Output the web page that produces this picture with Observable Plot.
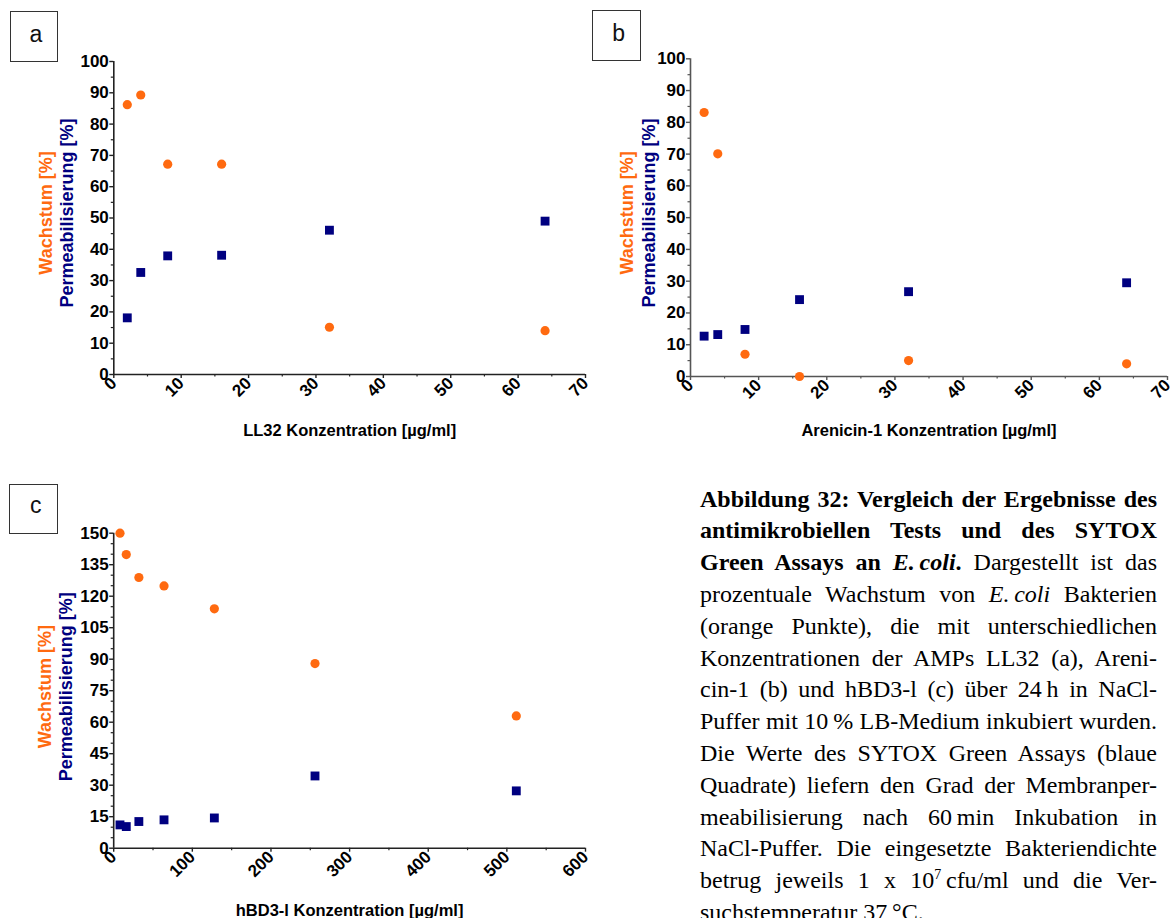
<!DOCTYPE html>
<html>
<head>
<meta charset="utf-8">
<script src="https://cdn.jsdelivr.net/npm/d3@7"></script>
<script src="https://cdn.jsdelivr.net/npm/@observablehq/plot@0.6"></script>
<style>
  html, body { margin: 0; padding: 0; background: #fff; }
  #page { position: relative; width: 1175px; height: 918px; overflow: hidden; background: #fff; }
  .panel { position: absolute; }
  .box { position: absolute; border: 1.5px solid #333; box-sizing: border-box;
         font: 23px 'Liberation Sans', Arial, sans-serif; color: #111; }
  .box span { position: absolute; left: 0; right: 0; text-align: center; padding-left: 4px; }
  #caption { position: absolute; left: 700px; top: 483.6px; width: 457px;
             font-family: 'Liberation Serif', 'Times New Roman', serif; font-size: 24px;
             line-height: 31.8px; color: #000; }
  #caption .l { white-space: nowrap; text-align: justify; text-align-last: justify; height: 31.8px; }
  #caption .last { white-space: nowrap; text-align: left; height: 31.8px; }
  #caption sup { font-size: 14px; line-height: 0; vertical-align: 9px; }
</style>
</head>
<body>
<div id="page">
  <div class="panel" id="pa" style="left:0px;top:0px;width:600px;"></div>
  <div class="panel" id="pb" style="left:590px;top:0px;width:585px;"></div>
  <div class="panel" id="pc" style="left:0px;top:462px;width:600px;"></div>

  <div class="box" style="left:9.6px;top:10.7px;width:48.5px;height:51px;"><span style="top:9px;">a</span></div>
  <div class="box" style="left:592.2px;top:10px;width:49px;height:50.7px;"><span style="top:9px;">b</span></div>
  <div class="box" style="left:9.3px;top:484px;width:49px;height:50.3px;"><span style="top:7px;">c</span></div>

  <div id="caption">
    <div class="l"><b>Abbildung 32: Vergleich der Ergebnisse des</b></div>
    <div class="l"><b>antimikrobiellen Tests und des SYTOX</b></div>
    <div class="l"><b>Green Assays an <i>E.&#8201;coli</i>.</b> Dargestellt ist das</div>
    <div class="l">prozentuale Wachstum von <i>E.&#8201;coli</i> Bakterien</div>
    <div class="l">(orange Punkte), die mit unterschiedlichen</div>
    <div class="l">Konzentrationen der AMPs LL32 (a), Areni-</div>
    <div class="l">cin-1 (b) und hBD3-l (c) über 24&#8201;h in NaCl-</div>
    <div class="l">Puffer mit 10&#8201;% LB-Medium inkubiert wurden.</div>
    <div class="l">Die Werte des SYTOX Green Assays (blaue</div>
    <div class="l">Quadrate) liefern den Grad der Membranper-</div>
    <div class="l">meabilisierung nach 60&#8201;min Inkubation in</div>
    <div class="l">NaCl-Puffer. Die eingesetzte Bakteriendichte</div>
    <div class="l">betrug jeweils 1 x 10<sup>7</sup>&#8201;cfu/ml und die Ver-</div>
    <div class="last">suchstemperatur 37&#8201;°C.</div>
  </div>
</div>
<script>
// ---------- data ----------
const ORANGE = "#FF6A10";
const NAVY = "#000080";

// Panel a: LL32
const concA = [2, 4, 8, 16, 32, 64];
const wachstumA = [86.2, 89.3, 67.2, 67.2, 15.1, 14.0];
const permA = [18.1, 32.6, 37.9, 38.1, 46.1, 49.0];

// Panel b: Arenicin-1
const concB = [2, 4, 8, 16, 32, 64];
const wachstumB = [83.1, 70.1, 7.0, 0.0, 5.0, 4.0];
const permB = [12.7, 13.2, 14.8, 24.2, 26.7, 29.5];

// Panel c: hBD3-l
const concC = [8, 16, 32, 64, 128, 256, 512];
const wachstumC = [150.0, 139.8, 128.9, 124.9, 114.0, 87.9, 63.0];
const permC = [11.1, 10.3, 12.7, 13.5, 14.4, 34.4, 27.3];

// tick labels
const xTicksAB = [0, 10, 20, 30, 40, 50, 60, 70];
const xMinorAB = [5, 15, 25, 35, 45, 55, 65];
const yTicksAB = [0, 10, 20, 30, 40, 50, 60, 70, 80, 90, 100];
const yMinorAB = [5, 15, 25, 35, 45, 55, 65, 75, 85, 95];
const xTicksC = [0, 100, 200, 300, 400, 500, 600];
const xMinorC = [50, 150, 250, 350, 450, 550];
const yTicksC = [0, 15, 30, 45, 60, 75, 90, 105, 120, 135, 150];
const yMinorC = [5, 10, 20, 25, 35, 40, 50, 55, 65, 70, 80, 85, 95, 100, 110, 115, 125, 130, 140, 145];

const yTitleW = "Wachstum [%]";
const yTitleP = "Permeabilisierung [%]";
const xLabelA = "LL32 Konzentration [µg/ml]";
const xLabelB = "Arenicin-1 Konzentration [µg/ml]";
const xLabelC = "hBD3-l Konzentration [µg/ml]";

function panel(o) {
  const wData = o.conc.map((c, i) => ({c, v: o.w[i]}));
  const pData = o.conc.map((c, i) => ({c, v: o.p[i]}));
  const ax = o.axisColor;
  return Plot.plot({
    width: o.width, height: o.height,
    marginLeft: o.mL, marginRight: o.mR, marginTop: o.mT, marginBottom: o.mB,
    x: {domain: o.xDomain, label: null},
    y: {domain: o.yDomain, label: null},
    style: {
      fontFamily: "'Liberation Sans', Arial, sans-serif",
      fontSize: "17px", fontWeight: "bold", color: "#000",
      background: "transparent", maxWidth: "none", overflow: "visible"
    },
    marks: [
      Plot.axisX(o.xMinor, {tickSize: 2.5, tickFormat: () => "", stroke: ax, strokeWidth: 1.2, label: null}),
      Plot.axisX(o.xTicks, {tickSize: 4, tickPadding: 2, tickRotate: -45, stroke: ax, strokeWidth: 1.4, fill: "#000", label: null}),
      Plot.axisY(o.yMinor, {tickSize: 2.5, tickFormat: () => "", stroke: ax, strokeWidth: 1.2, label: null}),
      Plot.axisY(o.yTicks, {tickSize: 4, tickPadding: 1, stroke: ax, strokeWidth: 1.4, fill: "#000", label: null}),
      Plot.ruleX([o.xDomain[0]], {stroke: ax, strokeWidth: 1.6}),
      Plot.ruleY([o.yDomain[0]], {stroke: ax, strokeWidth: 1.6}),
      Plot.dot(wData, {x: "c", y: "v", r: 4.6, fill: ORANGE}),
      Plot.dot(pData, {x: "c", y: "v", symbol: "square", r: 5, fill: NAVY}),
      Plot.text([yTitleW], {text: d => d, frameAnchor: "left", textAnchor: "middle", lineAnchor: "middle",
        rotate: -90, dx: o.dxW, dy: o.dyT, fill: ORANGE, fontSize: 18, fontWeight: "bold"}),
      Plot.text([yTitleP], {text: d => d, frameAnchor: "left", textAnchor: "middle", lineAnchor: "middle",
        rotate: -90, dx: o.dxP, dy: o.dyT, fill: NAVY, fontSize: 18, fontWeight: "bold"}),
      Plot.text([o.xLabel], {text: d => d, frameAnchor: "bottom", textAnchor: "middle", lineAnchor: "bottom",
        dy: o.dyX, fill: "#000", fontSize: 16.5, fontWeight: "bold"})
    ]
  });
}

document.getElementById("pa").append(panel({
  conc: concA, w: wachstumA, p: permA,
  xDomain: [0, 70], xTicks: xTicksAB, xMinor: xMinorAB,
  yDomain: [0, 100], yTicks: yTicksAB, yMinor: yMinorAB,
  xLabel: xLabelA, axisColor: "#222",
  width: 600, height: 444, mL: 113.3, mR: 15, mT: 61, mB: 70,
  dxW: -68, dxP: -46.6, dyT: -5, dyX: 61
}));

document.getElementById("pb").append(panel({
  conc: concB, w: wachstumB, p: permB,
  xDomain: [0, 70], xTicks: xTicksAB, xMinor: xMinorAB,
  yDomain: [0, 100], yTicks: yTicksAB, yMinor: yMinorAB,
  xLabel: xLabelB, axisColor: "#555",
  width: 585, height: 444, mL: 100, mR: 8, mT: 58.3, mB: 68,
  dxW: -63.2, dxP: -40.8, dyT: -4.7, dyX: 59
}));

document.getElementById("pc").append(panel({
  conc: concC, w: wachstumC, p: permC,
  xDomain: [0, 600], xTicks: xTicksC, xMinor: xMinorC,
  yDomain: [0, 150], yTicks: yTicksC, yMinor: yMinorC,
  xLabel: xLabelC, axisColor: "#222",
  width: 600, height: 456, mL: 113.2, mR: 15, mT: 70.7, mB: 70.3,
  dxW: -68.7, dxP: -47.3, dyT: -4, dyX: 67.3
}));
</script>
</body>
</html>
